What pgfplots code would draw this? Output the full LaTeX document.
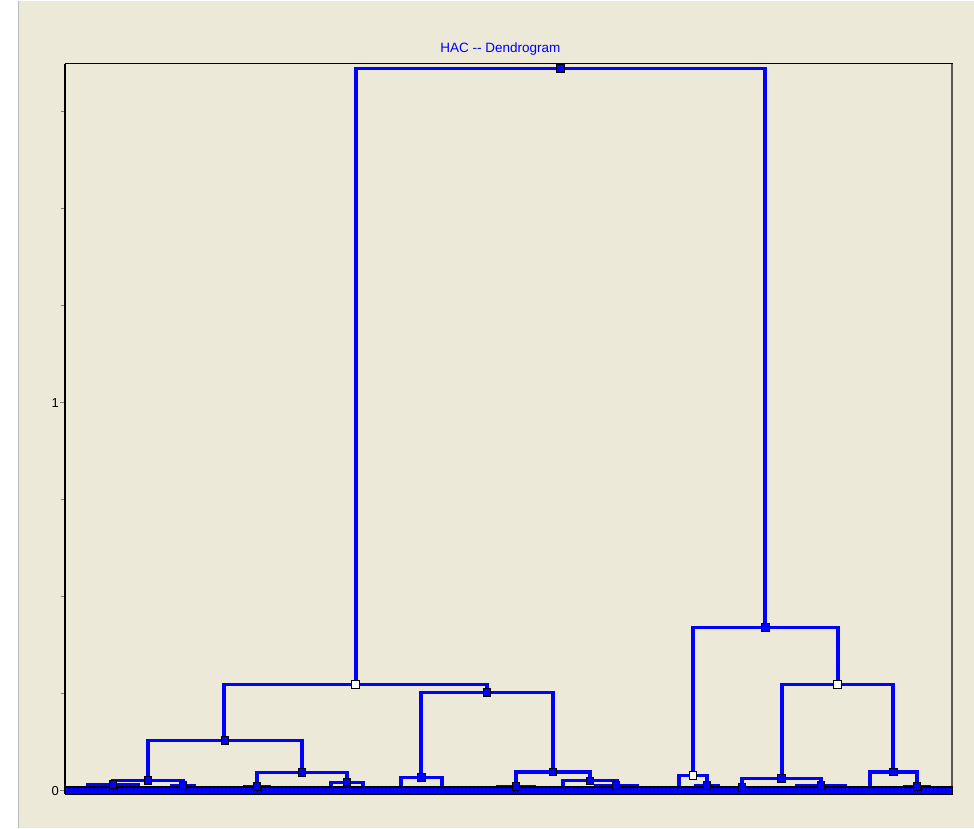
\documentclass[border=0pt]{standalone}
\usepackage{pgfplots}
\pgfplotsset{compat=1.18}
\usepackage{fontspec}
\setmainfont{Liberation Sans}
\definecolor{winbg}{RGB}{236,233,216}
\definecolor{hblue}{RGB}{0,0,255}

\begin{document}
\begin{tikzpicture}[x=1pt,y=1pt]
% window background
\fill[white] (0,0) rectangle (974,827);
\fill[winbg] (19,0) rectangle (974,827);
\draw[gray!55, line width=1.2pt] (18.5,0) -- (18.5,827);

\begin{axis}[
  at={(65pt,34pt)}, anchor=south west,
  scale only axis, width=887pt, height=730pt,
  xmin=65, xmax=952, ymin=-0.0077, ymax=1.8737,
  clip=false,
  axis line style={black, line width=0.8pt},
  xtick=\empty,
  ytick={0,1},
  minor ytick={0.25,0.5,0.75,1.25,1.5,1.75},
  ytick pos=left,
  tick align=outside,
  major tick length=5pt, minor tick length=4pt,
  tick style={gray, line width=0.8pt},
  /pgf/number format/assume math mode=true,
  yticklabel style={font=\fontsize{13}{15}\selectfont, inner xsep=1pt},
  den/.style={hblue, line width=3.1pt, no markers, line join=miter},
  nd/.style={only marks, mark=square*, mark size=3.85pt,
    mark options={fill=hblue, draw=black, line width=0.9pt}},
  ndw/.style={only marks, mark=square*, mark size=3.85pt,
    mark options={fill=white, draw=black, line width=0.9pt}},
]

% merges: left child, bar, right child
\addplot[den] coordinates {(356,0.273) (356,1.861) (765,1.861) (765,0.420)};
\addplot[den] coordinates {(224,0.130) (224,0.273) (487,0.273) (487,0.2526)};
\addplot[den] coordinates {(148,0.0258) (148,0.130) (302,0.130) (302,0.0477)};
\addplot[den] coordinates {(113,0.0155) (113,0.0258) (183,0.0258) (183,0.013)};
\addplot[den] coordinates {(88,0) (88,0.0155) (138,0.0155) (138,0)};
\addplot[den] coordinates {(172,0) (172,0.013) (194,0.013) (194,0)};
\addplot[den] coordinates {(257,0.010) (257,0.0477) (347,0.0477) (347,0.022)};
\addplot[den] coordinates {(245,0) (245,0.010) (269,0.010) (269,0)};
\addplot[den] coordinates {(331,0) (331,0.022) (363,0.022) (363,0)};
\addplot[den] coordinates {(421,0.0348) (421,0.2526) (553,0.2526) (553,0.048)};
\addplot[den] coordinates {(401,0) (401,0.0348) (442,0.0348) (442,0)};
\addplot[den] coordinates {(516,0.010) (516,0.048) (590,0.048) (590,0.025)};
\addplot[den] coordinates {(498,0) (498,0.010) (534,0.010) (534,0)};
\addplot[den] coordinates {(563,0) (563,0.025) (617,0.025) (617,0.0137)};
\addplot[den] coordinates {(596,0) (596,0.0137) (637,0.0137) (637,0)};
\addplot[den] coordinates {(693,0.0394) (693,0.420) (838,0.420) (838,0.273)};
\addplot[den] coordinates {(679,0) (679,0.0394) (707,0.0394) (707,0.014)};
\addplot[den] coordinates {(696,0) (696,0.014) (718,0.014) (718,0)};
\addplot[den] coordinates {(782,0.0317) (782,0.273) (893,0.273) (893,0.048)};
\addplot[den] coordinates {(742,0.009) (742,0.0317) (821,0.0317) (821,0.014)};
\addplot[den] coordinates {(732,0) (732,0.009) (752,0.009) (752,0)};
\addplot[den] coordinates {(797,0) (797,0.014) (845,0.014) (845,0)};
\addplot[den] coordinates {(870,0) (870,0.048) (917,0.048) (917,0.010)};
\addplot[den] coordinates {(905,0) (905,0.010) (929,0.010) (929,0)};

% leaves
\addplot[only marks, mark=square*, mark size=3.6pt,
  mark options={fill=hblue, draw=black, line width=1.3pt}] coordinates {
(69,0)(73,0)(77,0)(81,0)(85,0)(89,0)(93,0)(97,0)(101,0)(105,0)(109,0)(113,0)
(117,0)(121,0)(125,0)(129,0)(133,0)(137,0)(141,0)(145,0)(149,0)(153,0)(157,0)
(161,0)(165,0)(169,0)(173,0)(177,0)(181,0)(185,0)(189,0)(193,0)(197,0)(201,0)
(205,0)(209,0)(213,0)(217,0)(221,0)(225,0)(229,0)(233,0)(237,0)(241,0)(245,0)
(249,0)(253,0)(257,0)(261,0)(265,0)(269,0)(273,0)(277,0)(281,0)(285,0)(289,0)
(293,0)(297,0)(301,0)(305,0)(309,0)(313,0)(317,0)(321,0)(325,0)(329,0)(333,0)
(337,0)(341,0)(345,0)(349,0)(353,0)(357,0)(361,0)(365,0)(369,0)(373,0)(377,0)
(381,0)(385,0)(389,0)(393,0)(397,0)(401,0)(405,0)(409,0)(413,0)(417,0)(421,0)
(425,0)(429,0)(433,0)(437,0)(441,0)(445,0)(449,0)(453,0)(457,0)(461,0)(465,0)
(469,0)(473,0)(477,0)(481,0)(485,0)(489,0)(493,0)(497,0)(501,0)(505,0)(509,0)
(513,0)(517,0)(521,0)(525,0)(529,0)(533,0)(537,0)(541,0)(545,0)(549,0)(553,0)
(557,0)(561,0)(565,0)(569,0)(573,0)(577,0)(581,0)(585,0)(589,0)(593,0)(597,0)
(601,0)(605,0)(609,0)(613,0)(617,0)(621,0)(625,0)(629,0)(633,0)(637,0)(641,0)
(645,0)(649,0)(653,0)(657,0)(661,0)(665,0)(669,0)(673,0)(677,0)(681,0)(685,0)
(689,0)(693,0)(697,0)(701,0)(705,0)(709,0)(713,0)(717,0)(721,0)(725,0)(729,0)
(733,0)(737,0)(741,0)(745,0)(749,0)(753,0)(757,0)(761,0)(765,0)(769,0)(773,0)
(777,0)(781,0)(785,0)(789,0)(793,0)(797,0)(801,0)(805,0)(809,0)(813,0)(817,0)
(821,0)(825,0)(829,0)(833,0)(837,0)(841,0)(845,0)(849,0)(853,0)(857,0)(861,0)
(865,0)(869,0)(873,0)(877,0)(881,0)(885,0)(889,0)(893,0)(897,0)(901,0)(905,0)
(909,0)(913,0)(917,0)(921,0)(925,0)(929,0)(933,0)(937,0)(941,0)(945,0)(949,0)
};

% cluster nodes
\addplot[nd] coordinates {
(560.5,1.861) (225,0.130) (148,0.0258) (113,0.0155) (183,0.013)
(302,0.0477) (257,0.010) (347,0.022) (487,0.2526) (421.5,0.0348)
(553,0.048) (516,0.010) (590,0.025) (616,0.0137) (765.5,0.420)
(707,0.014) (781.5,0.0317) (742,0.009) (821,0.014) (893.5,0.048)
(917,0.010)};
\addplot[ndw] coordinates {(355.5,0.273) (693,0.0394) (837.5,0.273)};

% frame edges
\draw[black, line width=2pt] (rel axis cs:0,0) -- (rel axis cs:0,1);
\draw[gray!70!black, line width=1.5pt] (rel axis cs:1,0) -- (rel axis cs:1,1);
\end{axis}

\node[anchor=base, text=hblue, font=\fontsize{13.5}{16}\selectfont, inner sep=0pt]
  at (500.5,774.7) {HAC {-}{-} Dendrogram};
\end{tikzpicture}
\end{document}
